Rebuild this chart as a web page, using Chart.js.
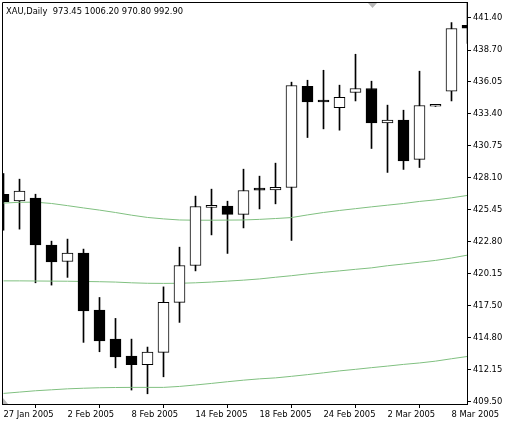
<!DOCTYPE html>
<html lang="en">
<head>
    <meta charset="UTF-8">
    <title>XAU Daily</title>
    <script src="https://cdn.jsdelivr.net/npm/chart.js"></script>
    <style>
        html, body { margin: 0; padding: 0; background: #fff; }
        canvas { display: block; }
    </style>
</head>
<body>
    <canvas id="chart" width="508" height="422"></canvas>

    <script>
        // Daily bars
        const dates = ['27 Jan 2005', '28 Jan 2005', '31 Jan 2005', '1 Feb 2005', '2 Feb 2005', '3 Feb 2005',
            '4 Feb 2005', '7 Feb 2005', '8 Feb 2005', '9 Feb 2005', '10 Feb 2005', '11 Feb 2005', '14 Feb 2005',
            '15 Feb 2005', '16 Feb 2005', '17 Feb 2005', '18 Feb 2005', '21 Feb 2005', '22 Feb 2005', '23 Feb 2005',
            '24 Feb 2005', '25 Feb 2005', '28 Feb 2005', '1 Mar 2005', '2 Mar 2005', '3 Mar 2005', '4 Mar 2005',
            '7 Mar 2005', '8 Mar 2005', '9 Mar 2005'];
        const opens = [426.72, 426.17, 426.39, 422.49, 421.13, 421.82, 417.09, 414.68, 413.27, 412.55, 413.58, 417.73,
            420.80, 425.62, 425.73, 425.04, 427.12, 427.08, 427.28, 435.69, 434.42, 433.92, 435.17, 435.50, 432.65,
            432.87, 429.61, 434.03, 435.28, 440.76];
        const highs = [428.44, 427.97, 426.72, 422.82, 422.99, 422.16, 418.14, 416.40, 414.68, 414.02, 419.02, 422.32,
            426.56, 427.14, 426.14, 428.80, 428.22, 429.30, 436.03, 436.19, 437.02, 435.78, 438.35, 436.11, 434.12,
            433.70, 436.94, 434.05, 440.98, 442.70];
        const lows = [423.73, 423.82, 419.36, 419.17, 419.81, 414.41, 413.63, 412.30, 410.45, 410.14, 411.55, 416.07,
            420.35, 423.34, 421.80, 423.92, 425.50, 425.92, 422.88, 431.43, 432.15, 432.04, 434.47, 430.52, 428.53,
            428.78, 428.94, 434.01, 434.47, 439.24];
        const closes = [426.08, 426.97, 422.51, 421.10, 421.82, 417.03, 414.54, 413.21, 412.55, 413.60, 417.73, 420.80,
            425.70, 425.68, 425.04, 427.03, 427.06, 427.30, 435.75, 434.39, 434.38, 434.76, 435.50, 432.65, 432.87,
            429.49, 434.09, 434.03, 440.49, 440.51];

        // three moving averages (green)
        const maUpper = [425.98, 426.05, 426.06, 425.95, 425.77, 425.58, 425.40, 425.20, 424.98, 424.79, 424.67, 424.58,
            424.56, 424.56, 424.57, 424.58, 424.63, 424.70, 424.78, 425.00, 425.20, 425.37, 425.52, 425.67, 425.81,
            425.95, 426.12, 426.25, 426.42, 426.62];
        const maMiddle = [419.52, 419.52, 419.51, 419.50, 419.49, 419.47, 419.45, 419.42, 419.36, 419.32, 419.31, 419.32,
            419.36, 419.42, 419.50, 419.58, 419.68, 419.82, 419.95, 420.10, 420.23, 420.35, 420.48, 420.60, 420.78,
            420.92, 421.07, 421.22, 421.42, 421.66];
        const maLower = [410.17, 410.28, 410.39, 410.47, 410.55, 410.60, 410.64, 410.66, 410.67, 410.67, 410.67, 410.75,
            410.87, 411.00, 411.14, 411.27, 411.38, 411.46, 411.59, 411.73, 411.88, 412.04, 412.17, 412.31, 412.44,
            412.58, 412.70, 412.85, 413.05, 413.24];

        const yTickLabels = ['441.40', '438.70', '436.05', '433.40', '430.75', '428.10', '425.45', '422.80', '420.15',
            '417.50', '414.80', '412.15', '409.50'];
        const xTickIndex = [0, 4, 8, 12, 16, 20, 24, 28];
        const titleText = 'XAU,Daily  973.45 1006.20 970.80 992.90';

        const FONT = "'DejaVu Sans Condensed', 'DejaVu Sans', sans-serif";
        Chart.defaults.font.family = FONT;
        Chart.defaults.font.size = 9.3;
        Chart.defaults.color = '#000';

        const bodyColors = opens.map((o, i) => closes[i] >= o ? '#ffffff' : '#000000');

        // frame, title and the two grey markers
        const framePlugin = {
            id: 'frame',
            afterDraw(chart) {
                const ctx = chart.ctx;
                const a = chart.chartArea;
                ctx.save();
                ctx.strokeStyle = '#000';
                ctx.lineWidth = 1;
                ctx.beginPath();
                ctx.moveTo(a.left + 0.5, a.bottom);
                ctx.lineTo(a.left + 0.5, a.top + 0.5);
                ctx.lineTo(a.right, a.top + 0.5);
                ctx.stroke();

                ctx.fillStyle = '#000';
                ctx.font = '9.3px ' + FONT;
                ctx.textBaseline = 'alphabetic';
                ctx.fillText(titleText, a.left + 4, a.top + 12);

                ctx.fillStyle = '#b8b8b8';
                ctx.beginPath();
                ctx.moveTo(a.right - 99, a.top + 1);
                ctx.lineTo(a.right - 90, a.top + 1);
                ctx.lineTo(a.right - 94.5, a.top + 6);
                ctx.closePath();
                ctx.fill();
                ctx.beginPath();
                ctx.moveTo(a.left + 1, a.bottom - 6);
                ctx.lineTo(a.left + 1, a.bottom);
                ctx.lineTo(a.left + 6, a.bottom);
                ctx.closePath();
                ctx.fill();
                ctx.restore();
            }
        };

        function maLine(values) {
            return {
                type: 'line',
                data: values.map((v, i) => ({ x: i, y: v })),
                borderColor: '#80c080',
                borderWidth: 1,
                pointRadius: 0,
                tension: 0,
                fill: false,
                order: 1,
                clip: 0
            };
        }

        const chart = new Chart(document.getElementById('chart'), {
            type: 'bar',
            data: {
                datasets: [
                    {
                        // bodies
                        data: opens.map((o, i) => ({ x: i, y: [o, closes[i]] })),
                        backgroundColor: bodyColors,
                        borderColor: '#000',
                        borderWidth: 1,
                        borderSkipped: false,
                        barThickness: 11,
                        minBarLength: 2,
                        grouped: false,
                        order: 0,
                        clip: 0
                    },
                    maLine(maUpper),
                    maLine(maMiddle),
                    maLine(maLower),
                    {
                        // wicks
                        data: lows.map((l, i) => ({ x: i, y: [l, highs[i]] })),
                        backgroundColor: '#000',
                        borderWidth: 0,
                        barThickness: 1,
                        grouped: false,
                        order: 2,
                        clip: 0
                    }
                ]
            },
            options: {
                responsive: false,
                animation: false,
                layout: { padding: { left: 2, top: 2, right: 0, bottom: 0 }, autoPadding: false },
                plugins: { legend: { display: false }, tooltip: { enabled: false } },
                scales: {
                    x: {
                        type: 'linear',
                        min: -0.09375,
                        max: 28.96875,
                        offset: false,
                        grid: { drawOnChartArea: false, drawTicks: true, tickLength: 4, color: '#000' },
                        border: { display: true, color: '#000' },
                        ticks: {
                            autoSkip: false,
                            maxRotation: 0,
                            align: 'start',
                            padding: 1,
                            callback: v => dates[v]
                        },
                        afterBuildTicks: s => { s.ticks = xTickIndex.map(v => ({ value: v })); },
                        afterFit: s => { s.height = 18; s.paddingLeft = 0; s.paddingRight = 0; }
                    },
                    y: {
                        type: 'linear',
                        position: 'right',
                        min: 409.29,
                        max: 442.69,
                        grid: { drawOnChartArea: false, drawTicks: true, tickLength: 4, color: '#000' },
                        border: { display: true, color: '#000' },
                        ticks: {
                            padding: 2,
                            callback: v => v.toFixed(2)
                        },
                        afterBuildTicks: s => { s.ticks = yTickLabels.map(t => ({ value: parseFloat(t) })); },
                        afterFit: s => { s.width = 41; s.paddingTop = 0; s.paddingBottom = 0; }
                    }
                }
            },
            plugins: [framePlugin]
        });
    </script>
</body>
</html>
